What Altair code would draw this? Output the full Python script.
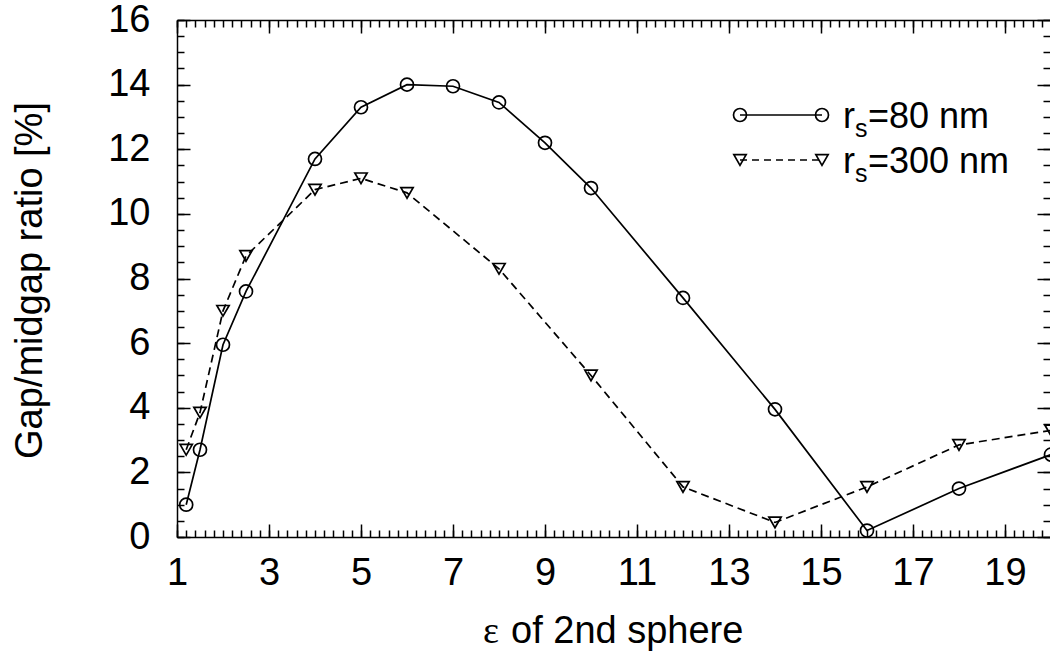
import altair as alt
import pandas as pd

# ---- data ----
eps_80 = [1.2, 1.5, 2, 2.5, 4, 5, 6, 7, 8, 9, 10, 12, 14, 16, 18, 20]
gap_80 = [1.0, 2.7, 5.95, 7.6, 11.7, 13.3, 14.0, 13.95, 13.45, 12.2, 10.8, 7.4, 3.95, 0.2, 1.5, 2.55]
eps_300 = [1.2, 1.5, 2, 2.5, 4, 5, 6, 8, 10, 12, 14, 16, 18, 20]
gap_300 = [2.7, 3.85, 7.0, 8.7, 10.75, 11.1, 10.65, 8.3, 5.0, 1.55, 0.45, 1.55, 2.85, 3.3]

x_major = [1, 3, 5, 7, 9, 11, 13, 15, 17, 19]
x_minor = [round(1 + 0.2 * i, 1) for i in range(96)]
y_major = [0, 2, 4, 6, 8, 10, 12, 14, 16]
y_minor = [0.5 * i for i in range(33)]

legend_r = "r"
legend_s = "s"
legend_labels = ["=80 nm", "=300 nm"]
x_title_eps = "ε"
x_title_rest = "of 2nd sphere"
y_title = "Gap/midgap ratio [%]"

# ---- layout ----
W, H = 873, 517
FONT = "Liberation Sans"
FS = 38
LFS = 36
LW = 1.7

df80 = pd.DataFrame({"eps": eps_80, "gap": gap_80})
df300 = pd.DataFrame({"eps": eps_300, "gap": gap_300})

xscale = alt.Scale(domain=[1, 20], range=[0, 874], nice=False, zero=False)
yscale = alt.Scale(domain=[0, 16], nice=False, zero=False)


def X(axis):
    return alt.X("eps:Q", scale=xscale, axis=axis)


def Y(axis):
    return alt.Y("gap:Q", scale=yscale, axis=axis)


def tick_axis(orient, offset, values, size, domain=False):
    return alt.Axis(orient=orient, offset=offset, values=values, ticks=True,
                    tickSize=size, tickWidth=1.5, tickColor="black",
                    labels=False, domain=domain, domainColor="black",
                    domainWidth=1.5, title=None, grid=False)


ax_x_lab = alt.Axis(orient="bottom", values=x_major, ticks=False, tickSize=0,
                    domain=True, domainColor="black", domainWidth=1.5,
                    labels=True, labelFont=FONT, labelFontSize=FS,
                    labelColor="black", labelPadding=17, labelFlush=False,
                    labelOverlap=False, labelBaseline="top", title=None, grid=False)
ax_y_lab = alt.Axis(orient="left", values=y_major, ticks=False, tickSize=0,
                    domain=True, domainColor="black", domainWidth=1.5,
                    labels=True, labelFont=FONT, labelFontSize=FS,
                    labelColor="black", labelPadding=27, labelFlush=False,
                    labelOverlap=False, grid=False,
                    title=y_title, titleFont=FONT, titleFontSize=FS,
                    titleFontWeight="normal", titleColor="black",
                    titleAngle=270, titleX=-136, titleY=260,
                    titleAlign="center", titleBaseline="alphabetic")

line80 = alt.Chart(df80).mark_line(color="black", strokeWidth=LW).encode(
    x=X(ax_x_lab), y=Y(ax_y_lab))
line300 = alt.Chart(df300).mark_line(color="black", strokeWidth=LW, strokeDash=[8, 5]).encode(
    x=X(tick_axis("top", -H, x_major, 13)), y=Y(tick_axis("right", -W, y_major, 13)))
pts80 = alt.Chart(df80).mark_point(shape="circle", size=169, filled=False, color="black",
                                   strokeWidth=LW, opacity=1).encode(
    x=X(tick_axis("top", -H, x_minor, 7)), y=Y(tick_axis("right", -W, y_minor, 7)))
pts300 = alt.Chart(df300).mark_point(shape="triangle-down", size=151, filled=False, color="black",
                                     strokeWidth=LW, opacity=1).encode(
    x=X(tick_axis("bottom", -H, x_major, 13, domain=True)),
    y=Y(tick_axis("left", -W, y_major, 13)))
dummy = alt.Chart(df300).mark_point(opacity=0).encode(
    x=X(tick_axis("bottom", -H, x_minor, 7)), y=Y(tick_axis("left", -W, y_minor, 7)))

one = pd.DataFrame({"k": [0]})
LX1, LX2, TX = 563, 645, 666
ROWS = [95, 140]

legend_layers = []
legend_layers.append(alt.Chart(one).mark_rule(color="black", strokeWidth=LW).encode(
    x=alt.value(LX1), x2=alt.value(LX2), y=alt.value(ROWS[0])))
legend_layers.append(alt.Chart(one).mark_rule(color="black", strokeWidth=LW, strokeDash=[7, 5]).encode(
    x=alt.value(LX1), x2=alt.value(LX2), y=alt.value(ROWS[1])))
for lx in (LX1, LX2):
    legend_layers.append(alt.Chart(one).mark_point(shape="circle", size=169, filled=False, color="black",
                                                   strokeWidth=LW, opacity=1).encode(
        x=alt.value(lx), y=alt.value(ROWS[0])))
    legend_layers.append(alt.Chart(one).mark_point(shape="triangle-down", size=151, filled=False, color="black",
                                                   strokeWidth=LW, opacity=1).encode(
        x=alt.value(lx), y=alt.value(ROWS[1])))
for i, ry in enumerate(ROWS):
    legend_layers.append(alt.Chart(one).mark_text(font=FONT, fontSize=LFS, align="left",
                                                  baseline="alphabetic", color="black").encode(
        x=alt.value(TX), y=alt.value(ry + 13), text=alt.value(legend_r)))
    legend_layers.append(alt.Chart(one).mark_text(font=FONT, fontSize=25, align="left",
                                                  baseline="alphabetic", color="black").encode(
        x=alt.value(TX + 12), y=alt.value(ry + 22), text=alt.value(legend_s)))
    legend_layers.append(alt.Chart(one).mark_text(font=FONT, fontSize=LFS, align="left",
                                                  baseline="alphabetic", color="black").encode(
        x=alt.value(TX + 25), y=alt.value(ry + 13), text=alt.value(legend_labels[i])))

# x axis title (Greek epsilon in serif, rest in sans)
xt1 = alt.Chart(one).mark_text(font="Liberation Serif", fontSize=FS, align="left",
                               baseline="alphabetic", color="black").encode(
    x=alt.value(306), y=alt.value(623), text=alt.value(x_title_eps))
xt2 = alt.Chart(one).mark_text(font=FONT, fontSize=FS, align="left",
                               baseline="alphabetic", color="black").encode(
    x=alt.value(334), y=alt.value(623), text=alt.value(x_title_rest))

chart = alt.layer(line80, line300, pts80, pts300, dummy, *legend_layers, xt1, xt2).resolve_axis(
    x="independent", y="independent"
).properties(
    width=W, height=H, autosize=alt.AutoSizeParams(type="none"),
    padding={"left": 177, "top": 20, "right": 0, "bottom": 118},
    background="white",
).configure_view(stroke=None)

chart.save("out.html", embed_options={"renderer": "svg", "actions": False})
